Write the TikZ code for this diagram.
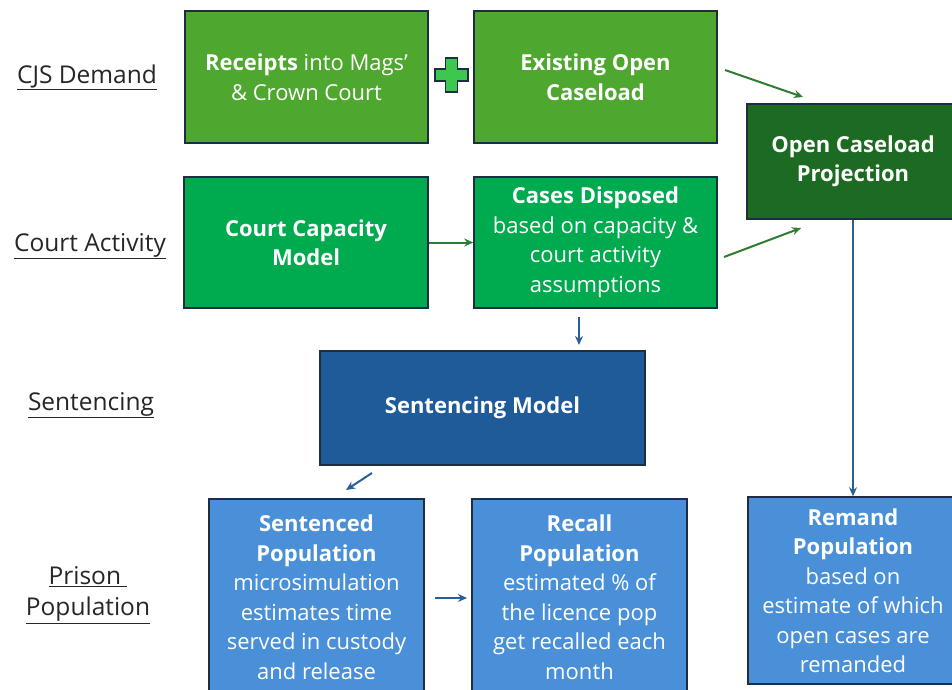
\documentclass[tikz,border=0pt]{standalone}
\usepackage{fontspec}
\setmainfont{Open Sans}
\usetikzlibrary{arrows.meta}
\definecolor{gA}{HTML}{4EA72E}
\definecolor{gB}{HTML}{00AA4F}
\definecolor{gD}{HTML}{1D6B22}
\definecolor{bD}{HTML}{1F5A99}
\definecolor{bL}{HTML}{4A90D9}
\definecolor{edge}{HTML}{1E2E40}
\definecolor{plusg}{HTML}{3CC84E}
\definecolor{arrG}{HTML}{2E7D32}
\definecolor{arrB}{HTML}{2B5F93}
\tikzset{
  box/.style={draw=edge, line width=1.5pt, text=white, align=center, inner sep=0pt},
  lab/.style={text=black!85, align=center, font=\fontsize{24.5}{31}\selectfont},
  garrow/.style={draw=arrG, line width=2pt, -{Stealth[length=9pt,width=8pt]}},
  barrow/.style={draw=arrB, line width=2pt, -{Stealth[length=9pt,width=8pt]}},
  bt/.style={font=\fontsize{22}{29.5}\selectfont},
}
\newcommand{\ul}[1]{\underline{#1}}
\begin{document}
\begin{tikzpicture}[x=1pt,y=-1pt]
\useasboundingbox (0,0) rectangle (952,689);
\clip (0,0) rectangle (952,689);
% labels
\node[lab] (l1) at (87,77) {\ul{CJS Demand}};
\node[lab] (l2) at (90,246) {\ul{Court Activity}};
\node[lab] (l3) at (91,405) {\ul{Sentencing}};
\node[lab] (l4) at (88,595) {\ul{Prison\ }\\\ul{Population}};
% boxes
\node[box, fill=gA, bt, minimum width=243pt, minimum height=132pt] (rec) at (306.5,77) {{\bfseries Receipts} into Mags'\\\& Crown Court};
\node[box, fill=gA, bt, minimum width=243pt, minimum height=132pt] (eoc) at (595.5,77) {\bfseries Existing Open\\\bfseries Caseload};
\node[box, fill=gD, bt, minimum width=212pt, minimum height=115pt] (ocp) at (853,161.5) {\bfseries Open Caseload\\\bfseries Projection};
\node[box, fill=gB, bt, minimum width=244pt, minimum height=131pt] (ccm) at (306,242.5) {\bfseries Court Capacity\\\bfseries Model};
\node[box, fill=gB, bt, minimum width=243pt, minimum height=131pt] (cd) at (595.5,242.5) {{\bfseries Cases Disposed}\\based on capacity \&\\court activity\\assumptions};
\node[box, fill=bD, bt, minimum width=325pt, minimum height=114pt] (sm) at (482.5,408) {\bfseries Sentencing Model};
\node[box, fill=bL, bt, minimum width=215pt, minimum height=196pt] (sp) at (316.5,597) {{\bfseries Sentenced}\\{\bfseries Population}\\microsimulation\\estimates time\\served in custody\\and release};
\node[box, fill=bL, bt, minimum width=215pt, minimum height=196pt] (rp) at (579.5,597) {{\bfseries Recall}\\{\bfseries Population}\\estimated \% of\\the licence pop\\get recalled each\\month};
\node[box, fill=bL, bt, minimum width=210pt, minimum height=187pt] (rm) at (853,590.5) {{\bfseries Remand}\\{\bfseries Population}\\based on\\estimate of which\\open cases are\\remanded};
% plus sign
\coordinate (plus) at (451.5,75);
\fill[plusg, draw=edge, line width=1.5pt]
  (445.5,58) -- (457.5,58) -- (457.5,69) -- (468,69) -- (468,81) -- (457.5,81) -- (457.5,92) -- (445.5,92) -- (445.5,81) -- (435,81) -- (435,69) -- (445.5,69) -- cycle;
% arrows
\coordinate (a1s) at (725,70); \coordinate (a1e) at (803,97);
\draw[garrow] (a1s) -- (a1e);
\coordinate (a2s) at (724,257); \coordinate (a2e) at (801,228);
\draw[garrow] (a2s) -- (a2e);
\draw[garrow] (ccm.east) -- (cd.west);
\coordinate (a3s) at (579,317); \coordinate (a3e) at (579,345);
\draw[barrow] (a3s) -- (a3e);
\coordinate (a4s) at (372,473); \coordinate (a4e) at (346,490);
\draw[barrow] (a4s) -- (a4e);
\coordinate (a5s) at (435,598); \coordinate (a5e) at (467,598);
\draw[barrow] (a5s) -- (a5e);
\draw[barrow] (ocp.south) -- (rm.north);
\end{tikzpicture}
\end{document}
